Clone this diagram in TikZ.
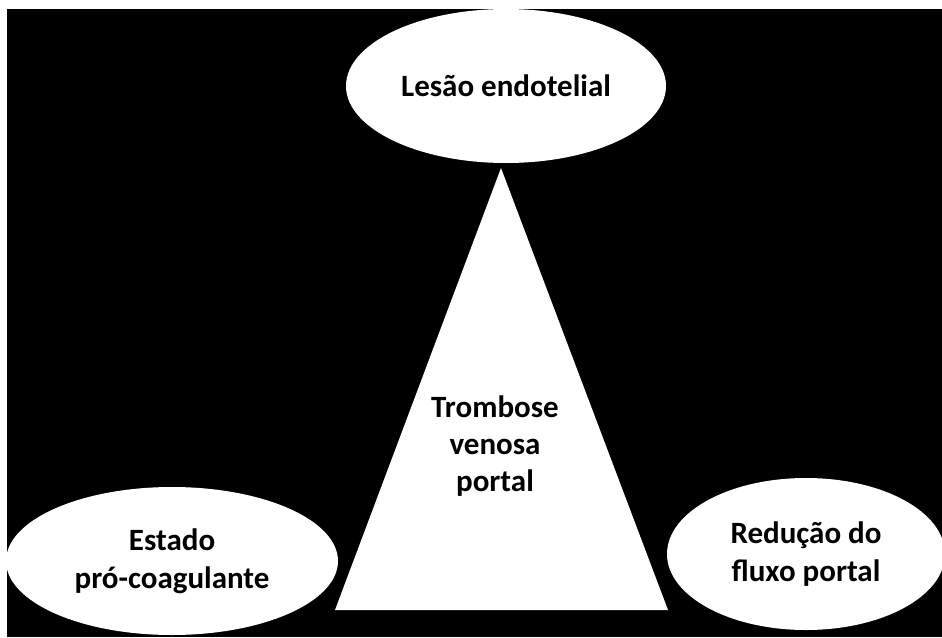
\documentclass[tikz,border=0pt]{standalone}
\usepackage{fontspec}
\setmainfont{Carlito}
\usetikzlibrary{shapes.geometric}
\tikzset{
  bubble/.style={ellipse, fill=white, inner sep=0pt, align=center,
    font=\bfseries\fontsize{31}{38}\selectfont, text=black},
  label text/.style={align=center, font=\bfseries\fontsize{31}{37}\selectfont, text=black},
}
\begin{document}
\begin{tikzpicture}[x=1pt,y=-1pt]
\useasboundingbox (0,0) rectangle (942,637);
\clip (0,0) rectangle (942,637);
\fill[white] (0,0) rectangle (942,637);
\fill[black] (7,9) rectangle (942,637);
% triangle
\coordinate (apex) at (501,168);
\coordinate (bl) at (335,610);
\coordinate (br) at (668,610);
\fill[white] (apex) -- (bl) -- (br) -- cycle;
\node[label text] (tvp) at (495,446) {Trombose\\venosa\\portal};
% ellipses
\node[bubble, minimum width=320pt, minimum height=154pt] (lesao) at (506,86) {Lesão endotelial};
\node[bubble, minimum width=332pt, minimum height=148pt] (estado) at (172,561) {Estado\\pró-coagulante};
\node[bubble, minimum width=278pt, minimum height=152pt] (reducao) at (806,554) {Redução do\\fluxo portal};
\end{tikzpicture}
\end{document}
